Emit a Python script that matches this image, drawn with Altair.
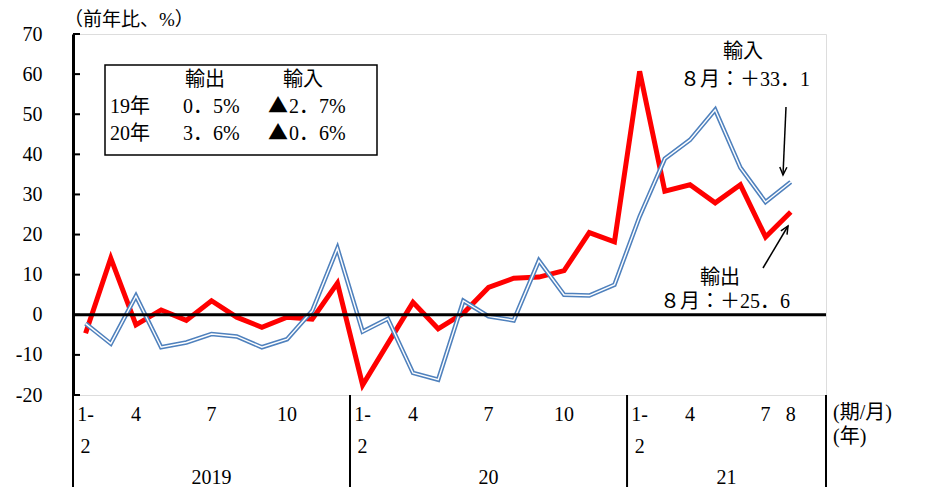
import altair as alt
import pandas as pd

# ---- data ----
months = ["1-2", "3", "4", "5", "6", "7", "8", "9", "10", "11", "12"] * 2 + ["1-2", "3", "4", "5", "6", "7", "8"]
years = ["2019"] * 11 + ["2020"] * 11 + ["2021"] * 7
exports = [-4.6, 14.1, -2.5, 1.2, -1.4, 3.5, -0.6, -3.1, -0.6, -1.1, 7.9,
           -17.5, -7.2, 3.1, -3.5, 0.4, 6.8, 9.1, 9.4, 11.0, 20.5, 18.2,
           60.7, 30.8, 32.4, 27.9, 32.4, 19.4, 25.6]
imports = [-2.2, -7.2, 4.7, -8.1, -6.9, -4.8, -5.4, -8.1, -6.1, 1.0, 16.6,
           -4.2, -1.0, -14.5, -16.2, 3.5, -0.4, -1.4, 13.5, 5.0, 4.8, 7.5,
           24.5, 38.9, 43.6, 51.1, 36.7, 28.1, 33.1]

y_ticks = [-20, -10, 0, 10, 20, 30, 40, 50, 60, 70]
tick_top = ["1-", "4", "7", "10", "1-", "4", "7", "10", "1-", "4", "7", "8"]
tick_top_idx = [0, 2, 5, 8, 11, 13, 16, 19, 22, 24, 27, 28]
tick_mid = ["2", "2", "2"]
tick_mid_idx = [0, 11, 22]
year_labels = ["2019", "20", "21"]
year_centers = [5.5, 16.5, 25.95]
separators = [0, 11, 22, 29.9]

FONT = "Liberation Serif, Noto Sans CJK JP"
CJK = "Noto Sans CJK JP"
W, H = 753, 361

df = pd.DataFrame({"pos": [i + 0.5 for i in range(len(months))],
                   "month": months, "year": years,
                   "exports": exports, "imports": imports})

xs = alt.Scale(domain=[0, 29.9], nice=False, zero=False)
ys = alt.Scale(domain=[-20, 70], nice=False, zero=False)

base = alt.Chart(df).encode(x=alt.X("pos:Q", scale=xs, axis=None))

red = base.mark_line(color="#FF0000", strokeWidth=5, strokeJoin="miter").encode(
    y=alt.Y("exports:Q", scale=ys,
            axis=alt.Axis(values=y_ticks, grid=False, ticks=False, labelPadding=31,
                          labelFont=FONT, labelFontSize=20, labelColor="black",
                          labelExpr="'' + datum.value", domainColor="black",
                          domainWidth=3, title=None)))
blue_outer = base.mark_line(color="#4F81BD", strokeWidth=4.5, strokeJoin="miter").encode(
    y=alt.Y("imports:Q", scale=ys))
blue_inner = base.mark_line(color="white", strokeWidth=1.4, strokeJoin="miter").encode(
    y=alt.Y("imports:Q", scale=ys))

zero = alt.Chart(pd.DataFrame({"z": [0]})).mark_rule(color="black", strokeWidth=3).encode(
    y=alt.Y("z:Q", scale=ys))

yt = alt.Chart(pd.DataFrame({"v": y_ticks})).mark_rule(color="black", strokeWidth=2).encode(
    y=alt.Y("v:Q", scale=ys), x=alt.value(0), x2=alt.value(7))

# x axis labels
top_df = pd.DataFrame({"t": tick_top, "p": [i + 0.5 for i in tick_top_idx]})
top_lbl = alt.Chart(top_df).mark_text(font=FONT, fontSize=20, color="black", baseline="middle").encode(
    x=alt.X("p:Q", scale=xs), y=alt.value(381), text="t:N")
mid_df = pd.DataFrame({"t": tick_mid, "p": [i + 0.5 for i in tick_mid_idx]})
mid_lbl = alt.Chart(mid_df).mark_text(font=FONT, fontSize=20, color="black", baseline="middle").encode(
    x=alt.X("p:Q", scale=xs), y=alt.value(413), text="t:N")
yr_df = pd.DataFrame({"t": year_labels, "p": year_centers})
yr_lbl = alt.Chart(yr_df).mark_text(font=FONT, fontSize=20, color="black", baseline="middle").encode(
    x=alt.X("p:Q", scale=xs), y=alt.value(444), text="t:N")
sep = alt.Chart(pd.DataFrame({"s": separators})).mark_rule(color="black", strokeWidth=2).encode(
    x=alt.X("s:Q", scale=xs), y=alt.value(H), y2=alt.value(453))

unit_df = pd.DataFrame({"t": ["(期/月)", "(年)"], "yy": [379, 403]})
unit_lbl = alt.Chart(unit_df).mark_text(font=FONT, fontSize=20, color="black", align="left",
                                        baseline="middle").encode(
    x=alt.value(760), y=alt.Y("yy:Q", scale=None), text="t:N")

ytitle = alt.Chart(pd.DataFrame({"t": ["（前年比、%）"]})).mark_text(
    font=FONT, fontSize=19, color="black", align="left", baseline="middle").encode(
    x=alt.value(-9), y=alt.value(-14), text="t:N")

# legend box
box = alt.Chart(pd.DataFrame({"a": [1]})).mark_rect(fill="white", stroke="black", strokeWidth=1.5).encode(
    x=alt.value(32), x2=alt.value(304), y=alt.value(31), y2=alt.value(121))
box_rows = pd.DataFrame({
    "t": ["輸出", "輸入", "19年", "0．5%", "2．7%", "20年", "3．6%", "0．6%"],
    "xx": [112, 210, 37, 110, 216, 37, 110, 216],
    "yy": [46, 46, 73, 73, 73, 100, 100, 100]})
box_txt = alt.Chart(box_rows).mark_text(font=FONT, fontSize=20, color="black", align="left",
                                        baseline="middle").encode(
    x=alt.X("xx:Q", scale=None), y=alt.Y("yy:Q", scale=None), text="t:N")
tri_df = pd.DataFrame({"t": ["▲", "▲"], "xx": [195, 195], "yy": [73, 100]})
tri_txt = alt.Chart(tri_df).mark_text(font=CJK, fontSize=20, color="black", align="left",
                                      baseline="middle").encode(
    x=alt.X("xx:Q", scale=None), y=alt.Y("yy:Q", scale=None), text="t:N")

# annotations
ann_df = pd.DataFrame({"t": ["輸入", "８月：＋33．1", "輸出", "８月：＋25．6"],
                       "xx": [670, 672, 647, 652], "yy": [18, 46, 244, 268]})
ann = alt.Chart(ann_df).mark_text(font=FONT, fontSize=20, color="black", align="center",
                                  baseline="middle").encode(
    x=alt.X("xx:Q", scale=None), y=alt.Y("yy:Q", scale=None), text="t:N")

arrow_df = pd.DataFrame({"x1": [713, 690], "y1": [73, 234], "x2": [710, 715], "y2": [141, 192],
                         "ang": [182.5, 30.7]})
arrow_line = alt.Chart(arrow_df).mark_rule(color="black", strokeWidth=1.5).encode(
    x=alt.X("x1:Q", scale=None), y=alt.Y("y1:Q", scale=None),
    x2="x2:Q", y2="y2:Q")
arrow_head = alt.Chart(arrow_df).mark_point(
    shape="M-0.45,1L0,0L0.45,1", filled=False, stroke="black", strokeWidth=1.5, size=250, opacity=1).encode(
    x=alt.X("x2:Q", scale=None), y=alt.Y("y2:Q", scale=None), angle=alt.Angle("ang:Q", scale=None))

chart = alt.layer(
    box, box_txt, tri_txt, red, blue_outer, blue_inner, zero, yt,
    top_lbl, mid_lbl, yr_lbl, sep, unit_lbl, ytitle, ann, arrow_line, arrow_head
).resolve_scale(x="shared").properties(
    width=W, height=H,
    autosize=alt.AutoSizeParams(type="none"),
    padding={"left": 65, "top": 26, "right": 97, "bottom": 92},
).configure_view(stroke="black", strokeWidth=2).configure(background="white")

chart.save("out.html", embed_options={"renderer": "svg", "actions": False})
